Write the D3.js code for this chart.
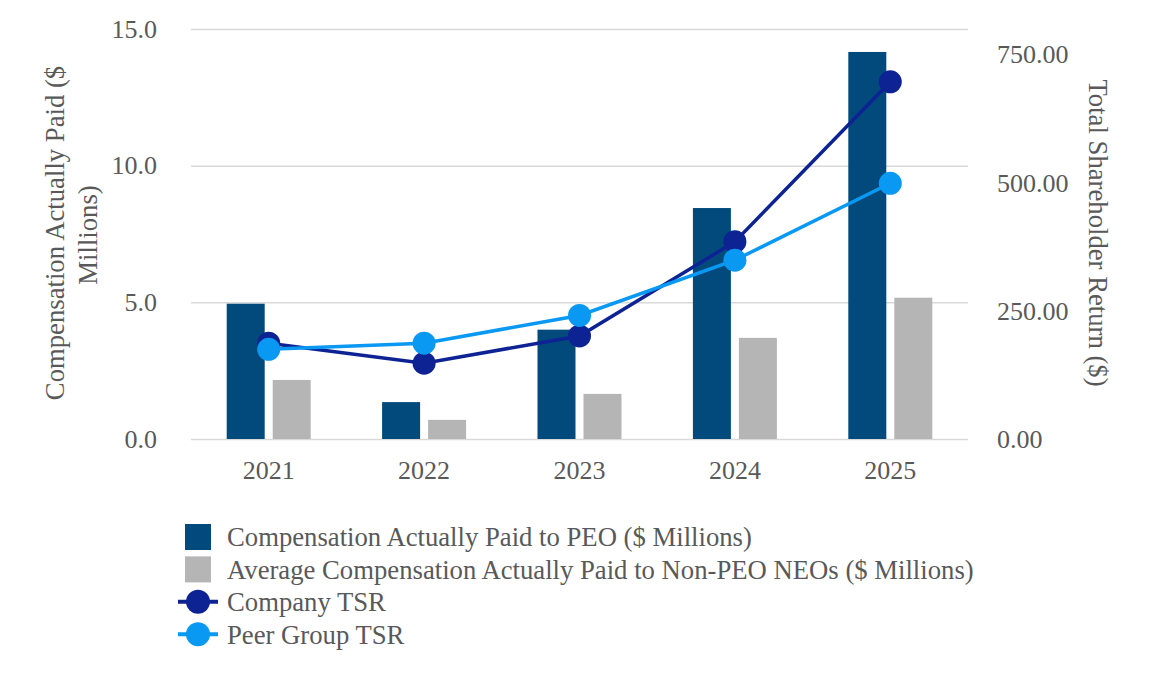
<!DOCTYPE html>
<html>
<head>
<meta charset="utf-8">
<script src="https://cdn.jsdelivr.net/npm/d3@7"></script>
<style>
  body { margin: 0; background: #fff; }
</style>
</head>
<body>
<svg id="chart" width="1152" height="690"></svg>
<script>
const years = ["2021", "2022", "2023", "2024", "2025"];
const peoCap = [4.95, 1.35, 4.0, 8.45, 14.16];
const neoCap = [2.16, 0.7, 1.65, 3.7, 5.17];
const companyTsr = [187, 148, 201, 385, 697];
const peerTsr = [175, 187, 241, 349, 499];
const leftTicks = [0, 5, 10, 15];
const rightTicks = [0, 250, 500, 750];

const font = "'Liberation Serif', 'Times New Roman', Times, 'DejaVu Serif', serif";
const textColor = "#595959";

const svg = d3.select("#chart")
    .attr("font-family", font);
const plotLeft = 191, plotRight = 968, plotTop = 29, plotBottom = 439;

let x = d3.scaleBand().domain(years).range([plotLeft, plotRight]).padding(0);

// two bars, 38px wide, 8px gap, centred in each band
let barW = 38, gap = 8;
let step = barW + gap;
let pIn = gap / step;
let pOut = (x.bandwidth() / step - 2 + pIn) / 2;
let xSub = d3.scaleBand().domain(["peo", "neo"]).range([0, x.bandwidth()])
    .paddingInner(pIn).paddingOuter(pOut);

let yL = d3.scaleLinear().domain([0, 15]).range([plotBottom, plotTop]);
let yR = d3.scaleLinear().domain([0, 800]).range([plotBottom, plotTop]);

function styleText(size) {
  return g => g.selectAll("text")
      .attr("font-family", font)
      .attr("font-size", size)
      .attr("fill", textColor);
}

// gridlines
svg.append("g")
    .attr("transform", "translate(" + plotLeft + ",0)")
    .call(d3.axisLeft(yL).tickValues(leftTicks).tickSize(-(plotRight - plotLeft)).tickFormat(""))
    .call(g => g.select(".domain").remove())
    .call(g => g.selectAll("line").attr("stroke", "#d9d9d9").attr("stroke-width", 1.5));

// left axis labels
svg.append("g")
    .attr("transform", "translate(" + plotLeft + ",0)")
    .call(d3.axisLeft(yL).tickValues(leftTicks).tickSize(0).tickPadding(34).tickFormat(d3.format(".1f")))
    .call(g => g.select(".domain").remove())
    .call(styleText(26))
    .call(g => g.selectAll("text").attr("dy", "0.32em"));

// right axis labels
svg.append("g")
    .attr("transform", "translate(" + plotRight + ",0)")
    .call(d3.axisRight(yR).tickValues(rightTicks).tickSize(0).tickPadding(29).tickFormat(d3.format(".2f")))
    .call(g => g.select(".domain").remove())
    .call(styleText(26))
    .call(g => g.selectAll("text").attr("dy", "0.32em"));

// x axis labels
svg.append("g")
    .attr("transform", "translate(0," + plotBottom + ")")
    .call(d3.axisBottom(x).tickSize(0).tickPadding(22))
    .call(g => g.select(".domain").remove())
    .call(styleText(26))
    .call(g => g.selectAll("text").attr("dy", "0.71em"));

// bars
let groups = svg.append("g").selectAll("g")
    .data(years)
    .enter()
    .append("g")
    .attr("transform", d => "translate(" + x(d) + ",0)");

groups.append("rect")
    .attr("x", xSub("peo"))
    .attr("width", xSub.bandwidth())
    .attr("y", (d, i) => yL(peoCap[i]))
    .attr("height", (d, i) => plotBottom - yL(peoCap[i]))
    .attr("fill", "#024a7c");

groups.append("rect")
    .attr("x", xSub("neo"))
    .attr("width", xSub.bandwidth())
    .attr("y", (d, i) => yL(neoCap[i]))
    .attr("height", (d, i) => plotBottom - yL(neoCap[i]))
    .attr("fill", "#b5b5b5");

// lines
let cx = d => x(d) + x.bandwidth() / 2;
let series = [
  { vals: companyTsr, color: "#0d2394" },
  { vals: peerTsr, color: "#0998f2" }
];

series.forEach(s => {
  let line = d3.line()
      .x((d, i) => cx(years[i]))
      .y(d => yR(d));
  svg.append("path")
      .datum(s.vals)
      .attr("d", line)
      .attr("fill", "none")
      .attr("stroke", s.color)
      .attr("stroke-width", 3.5);
  svg.append("g").selectAll("circle")
      .data(s.vals)
      .enter()
      .append("circle")
      .attr("cx", (d, i) => cx(years[i]))
      .attr("cy", d => yR(d))
      .attr("r", 11.5)
      .attr("fill", s.color);
});

// axis titles
let titles = svg.append("g");
titles.append("text")
    .attr("transform", "translate(64,233) rotate(-90)")
    .attr("text-anchor", "middle")
    .text("Compensation Actually Paid ($");
titles.append("text")
    .attr("transform", "translate(97,235) rotate(-90)")
    .attr("text-anchor", "middle")
    .text("Millions)");
titles.append("text")
    .attr("transform", "translate(1089,233) rotate(90)")
    .attr("text-anchor", "middle")
    .text("Total Shareholder Return ($)");
titles.call(styleText(26.7));

// legend
let legendItems = [
  { label: "Compensation Actually Paid to PEO ($ Millions)", color: "#024a7c", type: "bar" },
  { label: "Average Compensation Actually Paid to Non-PEO NEOs ($ Millions)", color: "#b5b5b5", type: "bar" },
  { label: "Company TSR", color: "#0d2394", type: "line" },
  { label: "Peer Group TSR", color: "#0998f2", type: "line" }
];

let legendG = svg.append("g");
let legend = legendG.selectAll("g")
    .data(legendItems)
    .enter()
    .append("g")
    .attr("transform", (d, i) => "translate(0," + (537 + i * 32.4) + ")");

legend.filter(d => d.type === "bar").append("rect")
    .attr("x", 185).attr("y", -13).attr("width", 26).attr("height", 26)
    .attr("fill", d => d.color);
legend.filter(d => d.type === "line").append("line")
    .attr("x1", 178).attr("x2", 218).attr("y1", 0).attr("y2", 0)
    .attr("stroke", d => d.color).attr("stroke-width", 4);
legend.filter(d => d.type === "line").append("circle")
    .attr("cx", 198).attr("cy", 0).attr("r", 12)
    .attr("fill", d => d.color);
legend.append("text")
    .attr("x", 227).attr("y", 0).attr("dy", "0.35em")
    .text(d => d.label);
legendG.call(styleText(26.7));
</script>
</body>
</html>
